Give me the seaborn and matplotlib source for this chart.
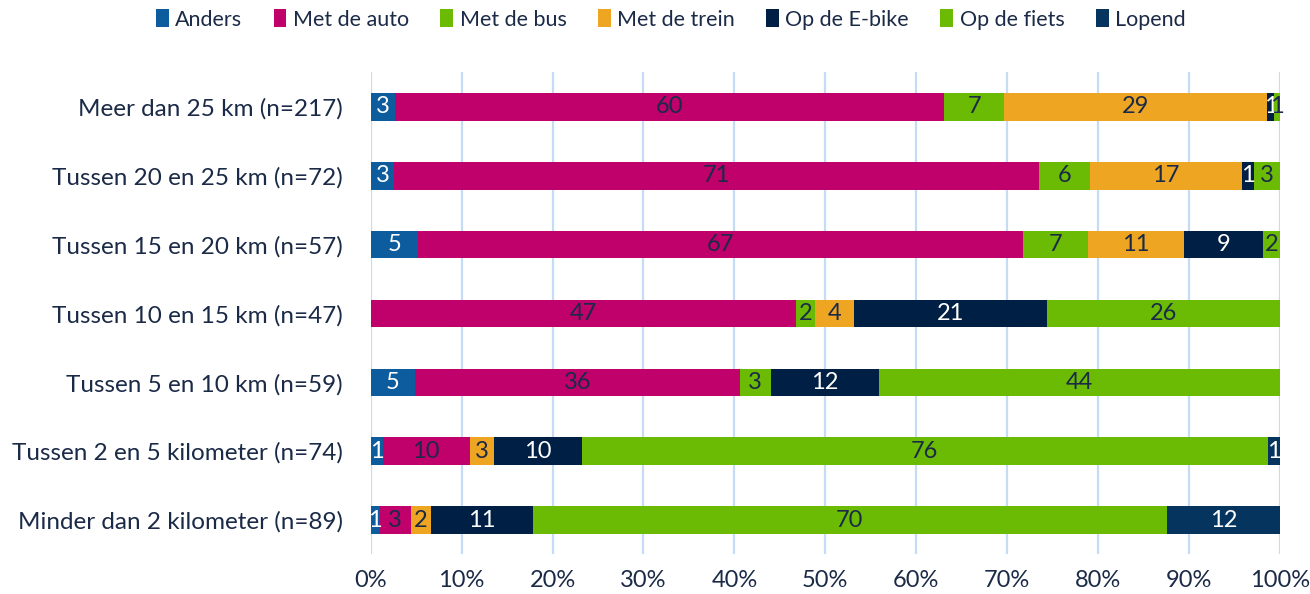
import numpy as np
import pandas as pd
import matplotlib
matplotlib.use("Agg")
import matplotlib.pyplot as plt
from matplotlib.patches import Patch
from matplotlib.ticker import FuncFormatter
import seaborn as sns

categories = [
    "Meer dan 25 km (n=217)",
    "Tussen 20 en 25 km (n=72)",
    "Tussen 15 en 20 km (n=57)",
    "Tussen 10 en 15 km (n=47)",
    "Tussen 5 en 10 km (n=59)",
    "Tussen 2 en 5 kilometer (n=74)",
    "Minder dan 2 kilometer (n=89)",
]
series = ["Anders", "Met de auto", "Met de bus", "Met de trein",
          "Op de E-bike", "Op de fiets", "Lopend"]

anders = [2.7, 2.6, 5.2, 0.0, 4.9, 1.3, 1.0]
auto = [60.4, 70.9, 66.6, 46.8, 35.7, 9.6, 3.4]
bus = [6.6, 5.6, 7.1, 2.1, 3.4, 0.0, 0.0]
trein = [28.9, 16.7, 10.6, 4.3, 0.0, 2.7, 2.2]
ebike = [0.8, 1.4, 8.6, 21.2, 11.9, 9.6, 11.2]
fiets = [0.6, 2.8, 1.9, 25.6, 44.1, 75.5, 69.8]
lopend = [0.0, 0.0, 0.0, 0.0, 0.0, 1.3, 12.4]

values = [anders, auto, bus, trein, ebike, fiets, lopend]
colors = ["#0C5C9E", "#C0006B", "#6BBB04", "#EEA522", "#001F44", "#6BBB04", "#05355F"]
label_colors = ["white", "#1B2A47", "#1B2A47", "#1B2A47", "white", "#1B2A47", "white"]
text_color = "#1B2A47"

sns.set_theme(style="white")
plt.rcParams["font.family"] = ["Lato", "DejaVu Sans"]

fig = plt.figure(figsize=(13.10, 5.94), dpi=100)
ax = fig.add_axes([0.283, 0.0665, 0.694, 0.8115])

arr = np.array(values)
cum = np.cumsum(arr, axis=0)

# draw cumulative bars from largest to smallest so segments stack
for i in reversed(range(len(series))):
    df = pd.DataFrame({"cat": categories, "val": cum[i]})
    sns.barplot(data=df, x="val", y="cat", orient="y", color=colors[i],
                width=0.4, saturation=1, linewidth=0, ax=ax, zorder=3)

# segment labels
for i in range(len(series)):
    for j, cat in enumerate(categories):
        v = arr[i, j]
        if v <= 0:
            continue
        center = cum[i, j] - v / 2
        ax.text(center, j, f"{v:.0f}", ha="center", va="center",
                color=label_colors[i], fontsize=17, zorder=5)

ax.set_xlim(0, 100)
ax.set_ylim(6.5, -0.5)
ax.set_xticks(np.arange(0, 101, 10))
ax.xaxis.set_major_formatter(FuncFormatter(lambda x, p: f"{x:.0f}%"))
ax.grid(axis="x", color="#C5DBF6", linewidth=1.6, zorder=0)
ax.grid(axis="y", visible=False)
ax.set_axisbelow(True)
for s in ax.spines.values():
    s.set_visible(False)
ax.set_xlabel("")
ax.set_ylabel("")
ax.tick_params(axis="x", length=0, pad=11, labelsize=17, labelcolor=text_color)
ax.tick_params(axis="y", length=0, pad=20, labelsize=17.5, labelcolor=text_color)

handles = [Patch(facecolor=c, edgecolor="none") for c in colors]
fig.legend(handles, series, loc="center", bbox_to_anchor=(0.512, 0.967), ncol=7,
           frameon=False, fontsize=15.5, handlelength=0.6, handleheight=0.9,
           handletextpad=0.3, columnspacing=1.45, labelcolor=text_color)

fig.savefig("out.png", dpi=100)
